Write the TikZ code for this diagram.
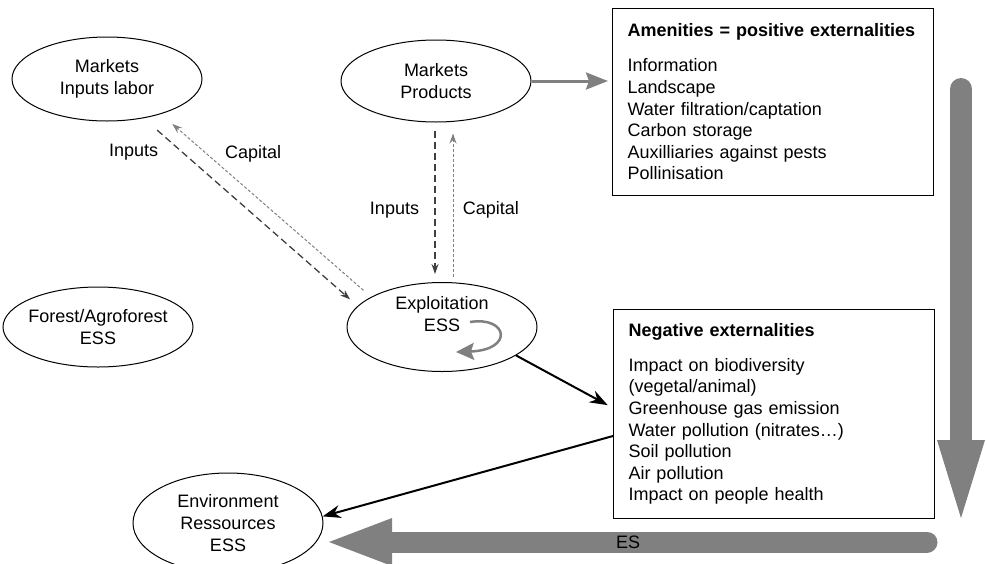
\documentclass[tikz,border=0pt]{standalone}
\usepackage{fontspec}
\setmainfont{Liberation Sans}
\usetikzlibrary{shapes.geometric,arrows.meta}

\begin{document}
\begin{tikzpicture}[x=1pt, y=-1pt,
  ess/.style={draw, ellipse, line width=1pt, minimum width=190pt, minimum height=84pt,
    inner xsep=-10pt, inner ysep=-3pt, align=center, font=\fontsize{18}{21.6}\selectfont},
  extbox/.style={draw, line width=1pt, anchor=north west, text width=291pt,
    inner xsep=15pt, align=left, font=\fontsize{18}{21.6}\selectfont},
  lbl/.style={text=black, font=\fontsize{18}{21.6}\selectfont},
  inarr/.style={dash pattern=on 7pt off 4pt, line width=1.3pt, black!75,
    -{Stealth[length=10pt,width=7pt]}},
  caparr/.style={dash pattern=on 3pt off 2pt, line width=1pt, black!50,
    -{Stealth[length=10pt,width=7pt]}},
  blkarr/.style={line width=2pt, -{Stealth[length=18pt,width=13pt]}},
  gryarr/.style={line width=3pt, black!50, -{Stealth[length=22pt,width=17pt,inset=3pt]}}
]
\useasboundingbox (0,0) rectangle (987,563);

% Ellipses
\node[ess] (markIn) at (107,79) {Markets\\Inputs labor};
\node[ess, minimum height=82pt] (markProd) at (436,81) {Markets\\Products};
\node[ess, minimum height=80pt] (forest) at (98,327) {Forest/Agroforest\\ESS};
\node[ess, minimum height=89pt, text depth=26pt] (expl) at (442,327) {Exploitation\\ESS};
\node[ess, minimum height=100pt] (env) at (228,523) {Environment\\Ressources\\ESS};

% Externality boxes
\node[extbox, minimum height=187pt] (amen) at (612,8)
  {\textbf{Amenities = positive externalities}\\[13.4pt]
   Information\\Landscape\\Water filtration/captation\\Carbon storage\\
   Auxilliaries against pests\\Pollinisation};
\node[extbox, minimum height=209pt] (negext) at (613,309)
  {\textbf{Negative externalities}\\[13.4pt]
   Impact on biodiversity\\(vegetal/animal)\\Greenhouse gas emission\\
   Water pollution (nitrates\dots)\\Soil pollution\\Air pollution\\Impact on people health};

% Flows with the markets
\draw[inarr, shorten <=18pt, shorten >=10pt] (markIn.-47) -- (expl.166)
  node[lbl, pos=0.18, left=20pt] {Inputs};
\draw[caparr, shorten <=10pt, shorten >=15pt] (expl.157) -- (markIn.-33)
  node[lbl, pos=0.78, right=14pt] {Capital};
\draw[inarr, shorten <=8pt, shorten >=8pt] ([xshift=-1pt]markProd.south) -- ([xshift=-7pt]expl.north)
  node[lbl, pos=0.55, left=12pt] {Inputs};
\draw[caparr, shorten <=5pt, shorten >=11pt] ([xshift=11pt]expl.north) -- ([xshift=17pt]markProd.south)
  node[lbl, pos=0.45, right=6pt] {Capital};

% Externalities
\draw[gryarr, shorten >=4pt] (markProd.east) -- (markProd.east -| amen.west);
\draw[blkarr, shorten >=6pt] (expl.-21) -- ([yshift=6pt]negext.west);
\draw[blkarr] ([yshift=-22pt]negext.west) -- (env.4);

% Loop inside the farm
\draw[line width=2.5pt, black!50, -{Stealth[length=18pt,width=17pt,inset=3pt]}]
  (470,322) .. controls (508,316) and (514,350) .. (456,352);

% Ecosystem services
\coordinate (esTop) at (961,89);
\coordinate (esTurn) at (961,440);
\coordinate (esEnd) at (927,542);
\coordinate (esHead) at (392,542);
\draw[line width=22pt, line cap=round, black!50] (esTop) -- (esTurn);
\fill[black!50] ([xshift=-24pt]esTurn) -- ([xshift=24pt]esTurn) -- ++(-24,78) -- cycle;
\draw[line width=21pt, line cap=round, black!50] (esEnd) -- (esHead);
\fill[black!50] ([yshift=-24pt]esHead) -- ([yshift=24pt]esHead) -- ++(-63,24) -- cycle;
\node[lbl] (es) at (628,542) {ES};
\end{tikzpicture}
\end{document}
